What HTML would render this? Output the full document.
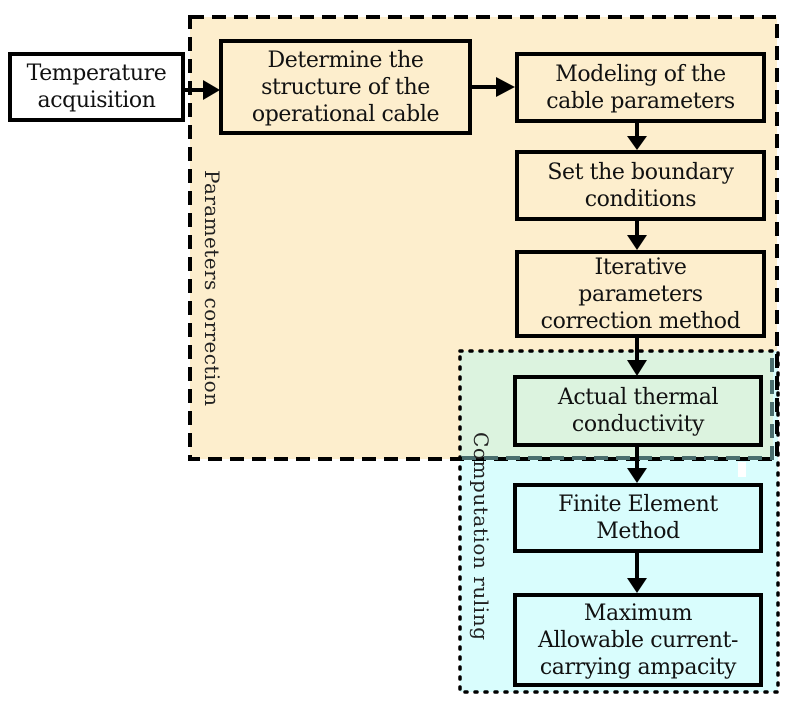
<!DOCTYPE html>
<html><head><style>
body{margin:0;width:790px;height:709px;background:#fff;position:relative;overflow:hidden;font-family:"DejaVu Serif","Liberation Serif",serif;}
.b{position:absolute;box-sizing:border-box;border:4px solid #000;display:flex;align-items:center;justify-content:center;text-align:center;font-size:22px;line-height:27px;color:#111;letter-spacing:-0.4px;}
</style></head><body>
<svg width="790" height="709" style="position:absolute;left:0;top:0">
<rect x="190" y="17" width="587" height="442" fill="#fdeecd"/>
<rect x="460" y="351" width="318" height="341" fill="#d9fdfd"/>
<rect x="460" y="351" width="313" height="107" fill="#dcf3df"/>
<rect x="190" y="17" width="587" height="442" fill="none" stroke="#000" stroke-width="4" stroke-dasharray="14,8"/>
<rect x="460" y="351" width="318" height="341" fill="none" stroke="#000" stroke-width="3.5" stroke-dasharray="2,8" stroke-linecap="round"/>
<path d="M462 458 H772 V355" fill="none" stroke="#4a6e6e" stroke-width="4" stroke-dasharray="14,8"/>
<rect x="738" y="462" width="8" height="15" fill="#fff"/>
<g stroke="#000" stroke-width="4">
<line x1="185" y1="90" x2="205" y2="90"/>
<line x1="472" y1="87" x2="498" y2="87"/>
<line x1="637" y1="123" x2="637" y2="138"/>
<line x1="637" y1="221" x2="637" y2="237"/>
<line x1="637" y1="338" x2="637" y2="362"/>
<line x1="637" y1="447" x2="637" y2="470"/>
<line x1="637" y1="553" x2="637" y2="580"/>
</g>
<g fill="#000">
<polygon points="203,80 220,90 203,100"/>
<polygon points="496,77 515,87 496,97"/>
<polygon points="627,136 647,136 637,150"/>
<polygon points="627,235 647,235 637,250"/>
<polygon points="627,360 647,360 637,376"/>
<polygon points="627,468 647,468 637,483"/>
<polygon points="627,578 647,578 637,593"/>
</g>
<text transform="translate(205,170) rotate(90)" font-family="DejaVu Serif,serif" font-size="20" fill="#222" textLength="236">Parameters correction</text>
<text transform="translate(474,432) rotate(90)" font-family="DejaVu Serif,serif" font-size="20" fill="#222" textLength="208">Computation ruling</text>
</svg>
<div class="b" style="left:8px;top:52px;width:177px;height:70px;background:#fff">Temperature<br>acquisition</div>
<div class="b" style="left:219px;top:39px;width:253px;height:96px;background:#fdeecd">Determine the<br>structure of the<br>operational cable</div>
<div class="b" style="left:515px;top:52px;width:251px;height:71px;background:#fdeecd">Modeling of the<br>cable parameters</div>
<div class="b" style="left:515px;top:150px;width:251px;height:71px;background:#fdeecd">Set the boundary<br>conditions</div>
<div class="b" style="left:515px;top:250px;width:251px;height:88px;background:#fdeecd">Iterative<br>parameters<br>correction method</div>
<div class="b" style="left:513px;top:375px;width:250px;height:72px;background:#dcf3df">Actual thermal<br>conductivity</div>
<div class="b" style="left:513px;top:483px;width:250px;height:70px;background:#d9fdfd">Finite Element<br>Method</div>
<div class="b" style="left:513px;top:593px;width:250px;height:94px;background:#d9fdfd">Maximum<br>Allowable current-<br>carrying ampacity</div>
</body></html>
